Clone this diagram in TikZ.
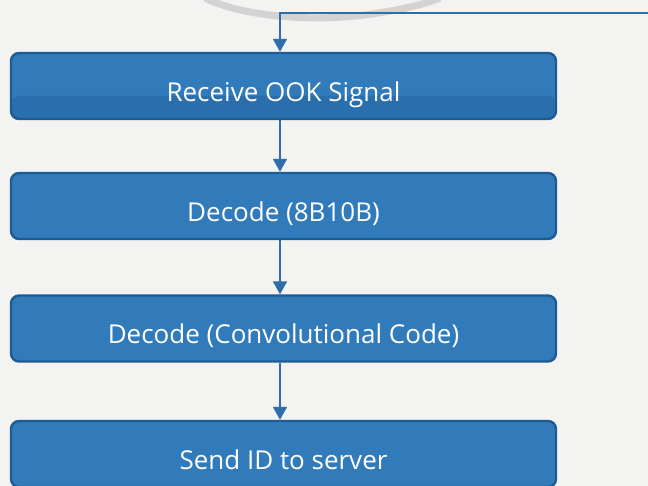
\documentclass[tikz,border=0pt]{standalone}
\usepackage{fontspec}
\setmainfont{Open Sans}
\usetikzlibrary{arrows.meta,calc}
\definecolor{paper}{HTML}{F3F3F1}
\definecolor{boxfill}{HTML}{317BBB}
\definecolor{boxlow}{HTML}{2A6FAD}
\definecolor{boxedge}{HTML}{1C5B94}
\definecolor{flow}{HTML}{2D6DA8}
\definecolor{ring}{HTML}{D3D3D3}
\newcommand{\steptext}[1]{\raisebox{-15.5pt}[0pt][0pt]{#1}}
\tikzset{
  stepbox/.style={draw=boxedge, line width=2.4pt, fill=boxfill, rounded corners=8pt,
    minimum width=545pt, minimum height=66pt, inner sep=0pt,
    text=white, font=\fontsize{26}{30}\selectfont},
  glossbox/.style={stepbox, path picture={
    \fill[boxlow] ($(path picture bounding box.south west)$) rectangle
      ($(path picture bounding box.north east)+(0,43)$);}},
  flowarrow/.style={draw=flow, line width=1.8pt,
    -{Triangle[length=13pt,width=14pt]}}
}
\begin{document}
\begin{tikzpicture}[x=1pt,y=-1pt]
  \useasboundingbox (0,0) rectangle (648,486);
  \fill[paper] (0,0) rectangle (648,486);
  \begin{scope}
    \clip (0,0) rectangle (648,486);
    % faint ring above the chart
    \draw[ring, line width=7pt] (205,-2) .. controls (245,18) and (320,22) .. (372,14)
      .. controls (405,9) and (425,4) .. (440,-2);
    % process steps
    \node[glossbox] (b1) at (283.5,86) {\steptext{Receive OOK Signal}};
    \node[stepbox]  (b2) at (283.5,206) {\steptext{Decode (8B10B)}};
    \node[stepbox]  (b3) at (283.5,328.5) {\steptext{Decode (Convolutional Code)}};
    \node[stepbox]  (b4) at (283.5,454) {\steptext{Send ID to server}};
  \end{scope}
  \coordinate (cx) at (280,0);
  \coordinate (feed) at (648,13);
  \draw[flowarrow] (feed) -| (b1.north -| cx);
  \draw[flowarrow] (b1.south -| cx) -- (b2.north -| cx);
  \draw[flowarrow] (b2.south -| cx) -- (b3.north -| cx);
  \draw[flowarrow] (b3.south -| cx) -- (b4.north -| cx);
\end{tikzpicture}
\end{document}
